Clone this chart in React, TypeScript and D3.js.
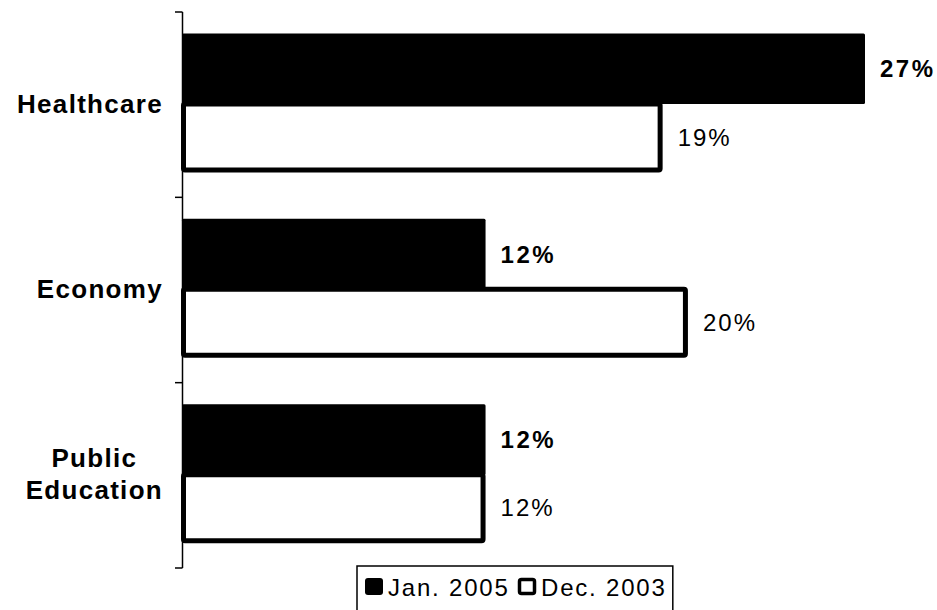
import React from "react";
import * as d3 from "d3";

const categories = ["Healthcare", "Economy", "Public Education"];
const categoryLines = [["Healthcare"], ["Economy"], ["Public", "Education"]];
const seriesNames = ["Jan. 2005", "Dec. 2003"];
const jan2005 = [27, 12, 12];
const dec2003 = [19, 20, 12];

const W = 937;
const H = 610;
const FONT = "'Liberation Sans', Arial, sans-serif";

function measure(text: string, font: string, spacing: number) {
  if (typeof document === "undefined") return text.length * 14;
  const c = document.createElement("canvas");
  const ctx = c.getContext("2d");
  if (!ctx) return text.length * 14;
  ctx.font = font;
  return ctx.measureText(text).width + spacing * (text.length - 1);
}

export default function App() {
  const x = d3.scaleLinear().domain([0, 27]).range([182, 865]);
  const y = d3.scaleBand<string>().domain(categories).range([12, 568]).paddingInner(0).paddingOuter(0);
  const bw = y.bandwidth();
  const groupTop = 21.5;
  const blackH = 70.5;
  const whiteH = 66;
  const strokeW = 5;
  const labelGap = 15;
  const catFont = "bold 26px 'Liberation Sans'";
  const catSpacing = 1.3;
  const catRight = 163;

  const ticks = [...categories.map((c) => y(c) as number), 568];
  const legFont = "24px 'Liberation Sans'";
  const legSpacing = 1.8;
  const leg2X = 541;
  const leg2W = measure(seriesNames[1], legFont, legSpacing);
  const legRight = leg2X + leg2W + 8;

  return (
    <svg width={W} height={H} style={{ position: "absolute", left: 0, top: 0, background: "#fff" }} fontFamily={FONT}>
      <rect x={0} y={0} width={W} height={H} fill="#fff" />
      {categories.map((c, i) => {
        const top = (y(c) as number) + groupTop;
        const bx0 = x(0);
        const by = top;
        const wy = top + blackH;
        const bEnd = x(jan2005[i]);
        const wEnd = x(dec2003[i]);
        const lines = categoryLines[i];
        const center = (y(c) as number) + bw / 2;
        const widths = lines.map((l) => measure(l, catFont, catSpacing));
        const maxW = Math.max(...widths);
        return (
          <g key={c}>
            <rect x={bx0} y={by} width={bEnd - bx0} height={blackH} fill="#000" rx={1.5} />
            <rect
              x={181 + strokeW / 2}
              y={wy}
              width={wEnd - strokeW / 2 - (181 + strokeW / 2)}
              height={whiteH}
              fill="#fff"
              stroke="#000"
              strokeWidth={strokeW}
              rx={1.5}
            />
            <text x={bEnd + labelGap} y={by + blackH / 2 + 8.5} fontSize={24} fontWeight="bold" letterSpacing={2.5} fill="#000">
              {jan2005[i]}%
            </text>
            <text x={wEnd + labelGap} y={wy + whiteH / 2 + 8.5} fontSize={24} letterSpacing={2} fill="#000">
              {dec2003[i]}%
            </text>
            {lines.map((l, li) => {
              const baseY = center + 8 + (li - (lines.length - 1) / 2) * 32;
              const cx = catRight - (maxW - widths[li]) / 2;
              return (
                <text key={l} x={cx} y={baseY} textAnchor="end" fontSize={26} fontWeight="bold" letterSpacing={catSpacing} fill="#000">
                  {l}
                </text>
              );
            })}
          </g>
        );
      })}
      <line x1={182.5} x2={182.5} y1={12} y2={568} stroke="#000" strokeWidth={1.5} />
      {ticks.map((t, i) => (
        <line key={i} x1={175} x2={182.5} y1={t} y2={t} stroke="#000" strokeWidth={1.5} />
      ))}
      <g>
        <rect x={357} y={566} width={legRight - 357} height={48} fill="#fff" stroke="#000" strokeWidth={1.5} />
        <rect x={365} y={578} width={18} height={17} rx={3} fill="#000" />
        <text x={388} y={596} fontSize={24} letterSpacing={legSpacing} fill="#000">
          {seriesNames[0]}
        </text>
        <rect x={519.5} y={579.5} width={15} height={14} rx={2} fill="#fff" stroke="#000" strokeWidth={3.5} />
        <text x={leg2X} y={596} fontSize={24} letterSpacing={legSpacing} fill="#000">
          {seriesNames[1]}
        </text>
      </g>
    </svg>
  );
}
